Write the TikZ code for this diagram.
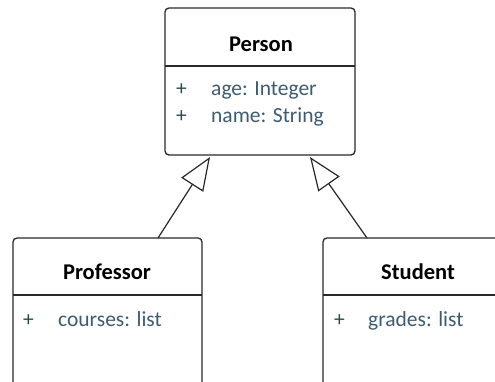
\documentclass[tikz,border=0pt]{standalone}
\usepackage{fontspec}
\setmainfont{Carlito}
\usetikzlibrary{arrows.meta}
\definecolor{attrc}{RGB}{62,92,112}
\definecolor{plusc}{RGB}{40,78,82}
\definecolor{linec}{RGB}{40,40,40}
\tikzset{
  classbox/.style={draw=linec, line width=1.3pt, fill=white, rounded corners=4pt, inner sep=0pt},
  divider/.style={draw=linec, line width=1.3pt},
  titletxt/.style={font=\fontsize{22.5}{26}\selectfont\bfseries, text=black, inner sep=0pt},
  attrtxt/.style={font=\fontsize{21.5}{25}\selectfont, text=attrc, inner sep=0pt, anchor=base west},
  plustxt/.style={font=\fontsize{21.5}{25}\selectfont, text=plusc, inner sep=0pt, anchor=base west},
  gen/.style={draw=linec, line width=1.2pt, -{Triangle[open, length=33pt, width=26pt, line width=1.2pt]}}
}
\begin{document}
\begin{tikzpicture}[x=1pt, y=-1pt]
\useasboundingbox (0,0) rectangle (495,381);
\clip (0,0) rectangle (495,381);
% Person
\node[classbox, minimum width=190pt, minimum height=147pt] (person) at (260,81.5) {};
\draw[divider] (165,66) -- (355,66);
\node[titletxt] (ptitle) at (261,44) {Person};
\node[plustxt] (pp1) at (176,95) {+};
\node[attrtxt] (pa1) at (211,95) {age: Integer};
\node[plustxt] (pp2) at (176,122) {+};
\node[attrtxt] (pa2) at (211,122) {name: String};
% Professor
\node[classbox, minimum width=189pt, minimum height=200pt] (prof) at (107.5,338) {};
\draw[divider] (13,295) -- (202,295);
\node[titletxt] (proftitle) at (107,272) {Professor};
\node[plustxt] (prp1) at (23,326) {+};
\node[attrtxt] (pra1) at (58,326) {courses: list};
% Student
\node[classbox, minimum width=200pt, minimum height=200pt] (stud) at (423,338) {};
\draw[divider] (323,295) -- (523,295);
\node[titletxt] (studtitle) at (418,272) {Student};
\node[plustxt] (sp1) at (334,326) {+};
\node[attrtxt] (sa1) at (368,326) {grades: list};
% Generalisation connectors
\coordinate (profTop) at (158,238);
\coordinate (tipL) at (210,157);
\coordinate (studTop) at (367,238);
\coordinate (tipR) at (310,157);
\draw[gen] (profTop) -- (tipL);
\draw[gen] (studTop) -- (tipR);
\end{tikzpicture}
\end{document}
